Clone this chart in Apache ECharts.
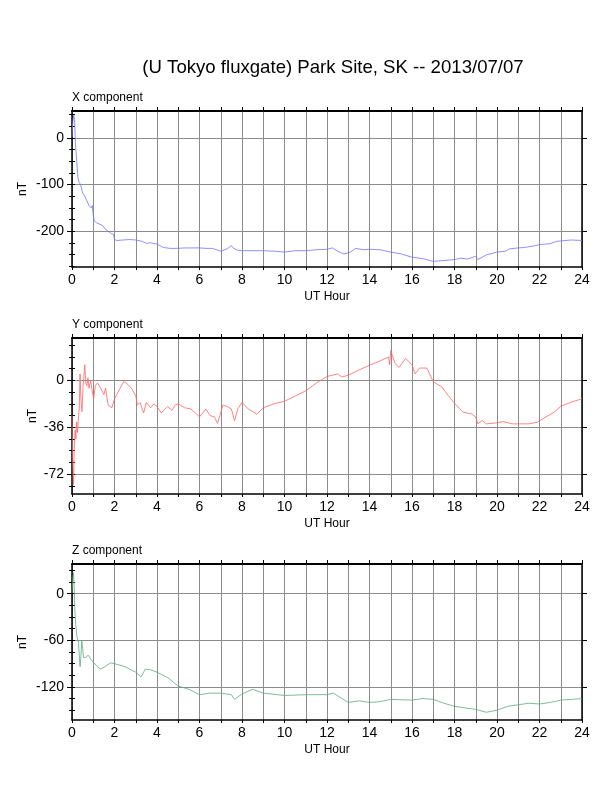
<!DOCTYPE html>
<html><head><meta charset="utf-8">
<script src="https://cdn.jsdelivr.net/npm/echarts@6/dist/echarts.min.js"></script>
<style>html,body{margin:0;padding:0;background:#fff}#c{width:612px;height:792px}</style>
</head><body><div id="c"></div>
<script>
const hourTicks = [0,2,4,6,8,10,12,14,16,18,20,22,24];

const xHours = [0,0.03,0.08,0.12,0.16,0.22,0.28,0.33,0.40,0.50,0.60,0.70,0.80,0.90,0.95,1.00,1.05,1.15,1.30,1.45,1.55,1.70,1.85,1.95,2.00,2.10,2.40,2.70,3.00,3.30,3.50,3.70,4.00,4.30,4.60,5.00,5.30,5.60,6.00,6.30,6.60,7.00,7.30,7.50,7.60,7.80,8.00,8.50,9.00,9.50,10.00,10.50,11.00,11.50,12.00,12.25,12.50,12.80,13.10,13.35,13.70,14.00,14.50,15.00,15.50,16.00,16.50,17.00,17.50,18.00,18.30,18.60,19.00,19.10,19.50,20.00,20.40,20.60,21.00,21.30,21.70,22.00,22.50,22.80,23.00,23.50,24.00];
const xVals = [2,30,49,40,-10,-50,-85,-95,-100,-118,-125,-135,-145,-150,-145,-165,-178,-182,-185,-188,-195,-200,-205,-207,-218,-220,-219,-218,-219,-222,-226,-225,-228,-235,-237,-237,-236,-236,-236,-237,-237,-243,-238,-231,-237,-241,-242,-242,-242,-243,-245,-242,-242,-240,-239,-236,-243,-249,-245,-237,-240,-239,-240,-245,-249,-256,-259,-265,-263,-261,-258,-260,-254,-261,-251,-245,-243,-238,-236,-235,-232,-229,-227,-222,-221,-219,-220];

const yHours = [0,0.03,0.06,0.08,0.10,0.12,0.15,0.18,0.22,0.26,0.30,0.34,0.38,0.42,0.47,0.52,0.60,0.65,0.70,0.75,0.80,0.88,0.95,1.02,1.10,1.20,1.35,1.50,1.58,1.70,1.88,2.00,2.20,2.43,2.55,2.80,3.00,3.08,3.20,3.37,3.50,3.70,3.86,4.00,4.20,4.50,4.70,4.85,5.00,5.30,5.60,5.80,6.00,6.30,6.50,6.70,6.85,7.10,7.30,7.50,7.65,7.80,8.00,8.30,8.70,9.00,9.50,10.00,10.50,11.00,11.50,12.00,12.50,12.70,13.00,13.50,14.00,14.50,14.90,14.95,15.00,15.20,15.40,15.70,16.00,16.15,16.35,16.70,17.00,17.40,17.70,18.00,18.40,18.80,19.00,19.10,19.30,19.50,20.00,20.30,20.70,21.00,21.50,21.90,22.20,22.70,23.00,23.50,24.00];
const yVals = [-27,-60,-80,-76,-55,-48,-38,-45,-32,-40,-29,-22,5,-15,-24,-5,12,-2,-4,2,-6,0,-8,-14,-4,-2,-6,-11,-6,-19,-21,-14,-8,-1,-2,-6,-12,-19,-17,-25,-17,-21,-18,-20,-25,-20,-23,-19,-18,-21,-22,-25,-28,-22,-27,-28,-33,-19,-20,-22,-31,-22,-17,-22,-26,-21,-18,-16,-12,-8,-2,3,5,2.6,4,8,11.6,15,18,12,23,13,10,17,12,5,9.5,9.5,-1,-5,-11.6,-17.5,-24.4,-25.7,-28.3,-33.4,-30.8,-33.4,-32.6,-31.6,-33.4,-33.4,-33.4,-32.1,-29,-24.4,-19.8,-16.7,-14.1];

const zHours = [0,0.04,0.07,0.10,0.14,0.18,0.23,0.30,0.34,0.38,0.42,0.46,0.50,0.54,0.65,0.76,0.90,1.00,1.20,1.35,1.55,1.82,2.00,2.50,3.00,3.25,3.45,3.70,4.00,4.50,5.00,5.50,6.00,6.50,7.00,7.50,7.65,8.00,8.50,9.00,10.00,11.00,12.00,12.30,13.00,13.50,14.00,14.50,15.00,16.00,16.50,17.00,17.50,18.00,19.00,19.50,20.00,20.50,21.00,21.50,22.00,22.50,23.00,23.50,24.00];
const zVals = [1,20,27,10,-25,-40,-55,-62,-64,-94,-80,-61,-70,-82,-82,-79,-85,-88,-94,-97,-94,-89,-90,-94,-101,-107,-97,-98,-101,-108,-119,-123,-130,-128,-128,-130,-136,-129,-123,-128,-131,-130,-130,-128,-140,-138,-140,-139,-136,-137,-135,-136,-141,-145,-149,-152.6,-150,-145,-143,-141,-142,-140,-137,-136,-135];

const xMajor = [0,-100,-200], xMinor = [50,25,0,-25,-50,-75,-100,-125,-150,-175,-200,-225,-250,-275];
const yMajor = [0,-36,-72], yMinor = [27,18,9,0,-9,-18,-27,-36,-45,-54,-63,-72,-81];
const zMajor = [0,-60,-120], zMinor = [30,15,0,-15,-30,-45,-60,-75,-90,-105,-120,-135,-150];

const panels = [
  {name:'X component', hours:xHours, vals:xVals, major:xMajor, minor:xMinor, min:-277, max:58, color:'#7474ff', top:111, nameGap:43},
  {name:'Y component', hours:yHours, vals:yVals, major:yMajor, minor:yMinor, min:-87.3, max:32.6, color:'#ff6464', top:338, nameGap:33},
  {name:'Z component', hours:zHours, vals:zVals, major:zMajor, minor:zMinor, min:-162.6, max:38.3, color:'#5fa982', top:564, nameGap:43}
];

const FONT = 'Liberation Sans, Arial, Helvetica, sans-serif';
const grids=[], xAxes=[], yAxes=[], series=[], graphics=[];
const W=510, H=156, L=72;
graphics.push({type:'text', style:{text:'(U Tokyo fluxgate) Park Site, SK -- 2013/07/07', x:333, y:68, textAlign:'center', textVerticalAlign:'middle', font:'18.6px '+FONT, fill:'#000'}});
panels.forEach((p,i)=>{
  grids.push({left:L, top:p.top, width:W, height:H, containLabel:false});
  graphics.push({type:'text', style:{text:p.name, x:L, y:p.top-13, textAlign:'left', textVerticalAlign:'middle', font:'12px '+FONT, fill:'#000'}});
  xAxes.push({type:'value', gridIndex:i, min:0, max:24, interval:1, position:'bottom',
    name:'UT Hour', nameLocation:'middle', nameGap:24, nameMoveOverlap:false, nameTextStyle:{fontSize:12, fontFamily:FONT, color:'#000'},
    axisLine:{show:true, onZero:false, lineStyle:{color:'#000', width:1.5}},
    axisTick:{show:true, length:3, lineStyle:{color:'#000'}},
    axisLabel:{fontSize:14, fontFamily:FONT, color:'#000', margin:6, formatter:v=>hourTicks.includes(v)?String(v):''},
    splitLine:{show:true, lineStyle:{color:'#8c8c8c', width:1}}});
  xAxes.push({type:'value', gridIndex:i, min:0, max:24, interval:1, position:'top',
    axisLine:{show:true, onZero:false, lineStyle:{color:'#000', width:2}},
    axisTick:{show:true, length:4, lineStyle:{color:'#000'}},
    axisLabel:{show:false}, splitLine:{show:false}});
  const base = {type:'value', gridIndex:i, min:p.min, max:p.max, scale:true};
  yAxes.push(Object.assign({}, base, {position:'left',
    name:'nT', nameLocation:'middle', nameGap:p.nameGap, nameRotate:90, nameMoveOverlap:false, nameTextStyle:{fontSize:12, fontFamily:FONT, color:'#000'},
    axisLine:{show:true, onZero:false, lineStyle:{color:'#000', width:1.5}},
    axisTick:{show:true, length:5, customValues:p.major, lineStyle:{color:'#000'}},
    axisLabel:{show:true, customValues:p.major, fontSize:14, fontFamily:FONT, color:'#000', margin:8},
    splitLine:{show:true, lineStyle:{color:'#8c8c8c', width:1}}}));
  yAxes.push(Object.assign({}, base, {position:'left',
    axisLine:{show:false}, axisTick:{show:true, length:3, customValues:p.minor, lineStyle:{color:'#000'}},
    axisLabel:{show:false}, splitLine:{show:false}}));
  yAxes.push(Object.assign({}, base, {position:'right',
    axisLine:{show:true, onZero:false, lineStyle:{color:'#000', width:1.5}},
    axisTick:{show:true, length:5, customValues:p.major, lineStyle:{color:'#000'}},
    axisLabel:{show:false}, splitLine:{show:false}}));
  yAxes.push(Object.assign({}, base, {position:'right',
    axisLine:{show:false}, axisTick:{show:true, length:3, customValues:p.minor, lineStyle:{color:'#000'}},
    axisLabel:{show:false}, splitLine:{show:false}}));
  series.push({type:'line', xAxisIndex:i*2, yAxisIndex:i*4, showSymbol:false, symbol:'none', animation:false,
    lineStyle:{color:p.color, width:0.8}, data:p.hours.map((h,k)=>[h,p.vals[k]])});
});
const chart = echarts.init(document.getElementById('c'), null, {renderer:'canvas'});
chart.setOption({animation:false, backgroundColor:'#fff', grid:grids, xAxis:xAxes, yAxis:yAxes, series:series, graphic:graphics});
</script></body></html>
